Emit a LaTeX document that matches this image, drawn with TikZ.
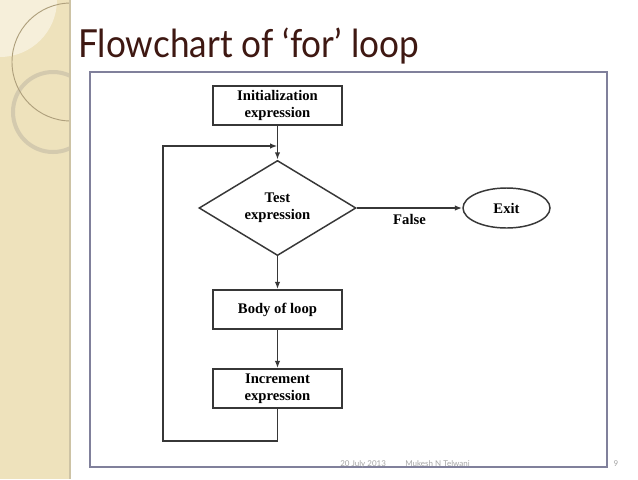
\documentclass[tikz,border=0pt]{standalone}
\usepackage{fontspec}
\setmainfont{Liberation Serif}
\newfontfamily\slidefont{Lato}
\usetikzlibrary{shapes.geometric,arrows.meta}
\definecolor{sidebar}{RGB}{238,226,188}
\definecolor{sidelight}{RGB}{246,239,218}
\definecolor{ringtone}{RGB}{212,202,174}
\definecolor{arctone}{RGB}{175,160,125}
\definecolor{sideedge}{RGB}{205,195,165}
\definecolor{titlebrown}{RGB}{62,24,18}
\definecolor{framecol}{RGB}{128,128,155}
\definecolor{linegray}{RGB}{55,55,55}
\definecolor{footgray}{RGB}{165,165,165}
\begin{document}
\begin{tikzpicture}[x=0.75pt,y=-0.75pt,
  flow/.style={draw=linegray,line width=1.1pt,text=black,align=center,
    font=\bfseries\fontsize{11}{12.5}\selectfont,inner sep=1pt},
  box/.style={flow,rectangle,minimum width=96.75pt,minimum height=29.25pt},
  test/.style={flow,diamond,minimum width=117.75pt,minimum height=63pt,inner sep=0pt},
  term/.style={flow,ellipse,minimum width=65.25pt,minimum height=30pt},
  link/.style={draw=linegray,line width=1.1pt},
  arr/.style={link,-{Latex[length=5.5pt,width=4pt]}},
  footer/.style={text=footgray,font=\slidefont\fontsize{6}{7.5}\selectfont,inner sep=0pt}]
  \useasboundingbox (0,0) rectangle (638,479);
  \fill[white] (0,0) rectangle (638,479);
  \begin{scope}
    \clip (0,0) rectangle (70,479);
    \fill[sidebar] (0,0) rectangle (70,479);
    \fill[sidelight] (0,0) circle (57);
    \draw[ringtone,line width=3pt] (53,112) circle (40);
    \draw[arctone,line width=0.7pt] (71,62) circle (59);
  \end{scope}
  \draw[sideedge,line width=0.8pt] (70,0) -- (70,479);
  \node[anchor=base west,inner sep=0pt,text=titlebrown,
    font=\slidefont\fontsize{29}{34}\selectfont] (title) at (78,57) {\scalebox{0.91}[1]{Flowchart of ‘for’ loop}};
  \draw[framecol,line width=1.2pt] (90,72) rectangle (607,467);
  \node[box] (init) at (277.5,105.5) {Initialization\\expression};
  \node[test] (test) at (277.5,208) {Test\\expression};
  \node[term] (exit) at (506.5,208) {Exit};
  \node[box] (body) at (277.5,309.5) {Body of loop};
  \node[box] (incr) at (277.5,388.5) {Increment\\expression};
  \coordinate (loopin) at (277.5,146);
  \coordinate (loopbl) at (163,441);
  \draw[arr] (init.south) -- (test.north);
  \draw[arr] (test.east) -- node[below,yshift=-3pt,flow,draw=none] (false) {False} (exit.west);
  \draw[arr] (test.south) -- (body.north);
  \draw[arr] (body.south) -- (incr.north);
  \draw[arr] (incr.south) |- (loopbl) |- (loopin);
  \node[footer,anchor=base west] (date) at (340,466) {20 July 2013};
  \node[footer,anchor=base west] (author) at (405,466) {Mukesh N Telwani};
  \node[footer,anchor=base] (page) at (616,466) {9};
\end{tikzpicture}
\end{document}
